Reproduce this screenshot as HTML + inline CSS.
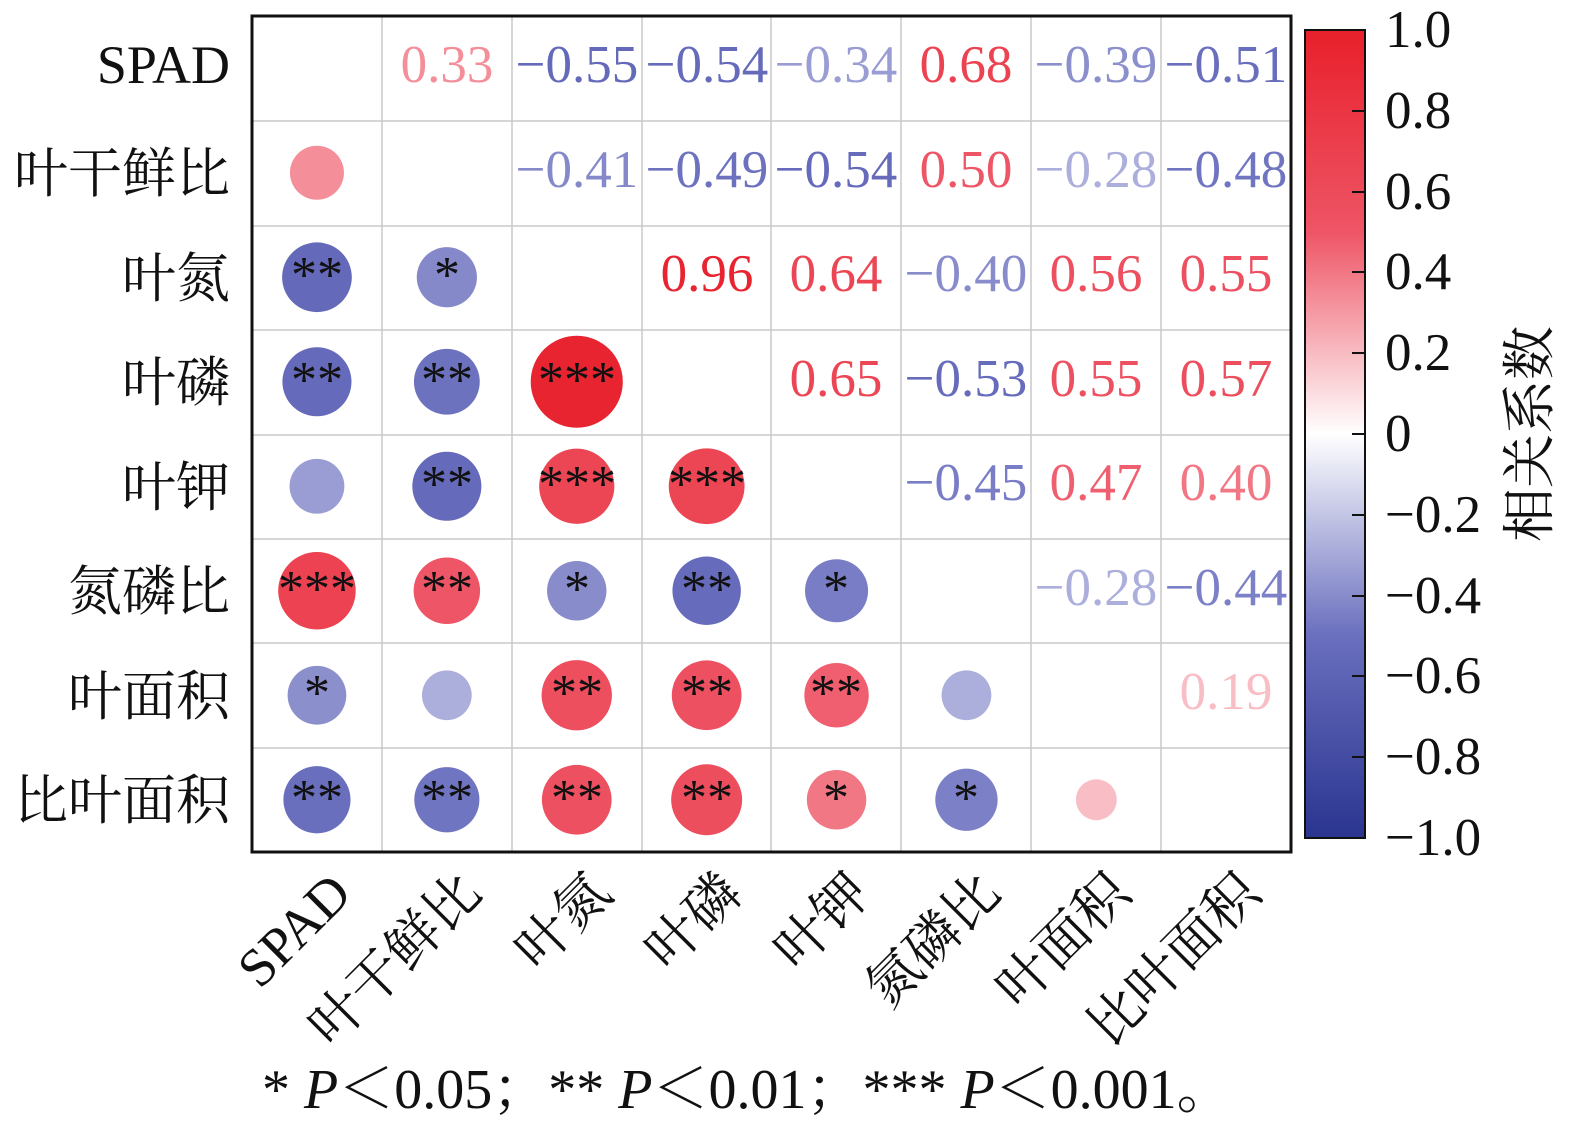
<!DOCTYPE html>
<html><head><meta charset="utf-8">
<style>
html,body{margin:0;padding:0;background:#fff;}
svg{display:block;font-family:"Liberation Serif","Noto Serif CJK SC","Noto Sans CJK SC",serif;}
.lab{font-size:54px;fill:#111;}
.num{font-size:53px;text-anchor:middle;}
.st{font-size:52px;text-anchor:middle;fill:#111;}
.tk{font-size:53px;fill:#111;}
</style></head><body>
<svg id="s" width="1575" height="1130" viewBox="0 0 1575 1130" xmlns="http://www.w3.org/2000/svg">
<defs>
<linearGradient id="cb" x1="0" y1="0" x2="0" y2="1">
<stop offset="0" stop-color="#e8202b"/>
<stop offset="0.25" stop-color="#ee5566"/>
<stop offset="0.5" stop-color="#ffffff"/>
<stop offset="0.75" stop-color="#6a6fbe"/>
<stop offset="1" stop-color="#2a3590"/>
</linearGradient>
</defs>
<g id="grid" stroke="#c8c8c8" stroke-width="1.5">
<line x1="382" y1="16" x2="382" y2="852"/><line x1="512" y1="16" x2="512" y2="852"/>
<line x1="642" y1="16" x2="642" y2="852"/><line x1="771" y1="16" x2="771" y2="852"/>
<line x1="901" y1="16" x2="901" y2="852"/><line x1="1031" y1="16" x2="1031" y2="852"/>
<line x1="1161" y1="16" x2="1161" y2="852"/>
<line x1="252" y1="121" x2="1291" y2="121"/><line x1="252" y1="226" x2="1291" y2="226"/>
<line x1="252" y1="330" x2="1291" y2="330"/><line x1="252" y1="435" x2="1291" y2="435"/>
<line x1="252" y1="539" x2="1291" y2="539"/><line x1="252" y1="643" x2="1291" y2="643"/>
<line x1="252" y1="748" x2="1291" y2="748"/>
</g>
<g id="circ"></g>
<rect x="252" y="16" width="1039" height="836" fill="none" stroke="#111" stroke-width="3"/>

<g class="lab" text-anchor="end">
<text x="230" y="83">SPAD</text>
<text x="230" y="192">叶干鲜比</text>
<text x="230" y="297">叶氮</text>
<text x="230" y="401">叶磷</text>
<text x="230" y="506">叶钾</text>
<text x="230" y="610">氮磷比</text>
<text x="230" y="715">叶面积</text>
<text x="230" y="819">比叶面积</text>
</g>
<g class="lab" text-anchor="end">
<text transform="translate(354,896) rotate(-45)">SPAD</text>
<text transform="translate(484,896) rotate(-45)">叶干鲜比</text>
<text transform="translate(614,896) rotate(-45)">叶氮</text>
<text transform="translate(744,896) rotate(-45)">叶磷</text>
<text transform="translate(873,896) rotate(-45)">叶钾</text>
<text transform="translate(1003,896) rotate(-45)">氮磷比</text>
<text transform="translate(1133,896) rotate(-45)">叶面积</text>
<text transform="translate(1263,896) rotate(-45)">比叶面积</text>
</g>

<g class="num" id="nums">
<text x="447" y="82">0.33</text><text x="577" y="82">−0.55</text><text x="707" y="82">−0.54</text><text x="836" y="82">−0.34</text><text x="966" y="82">0.68</text><text x="1096" y="82">−0.39</text><text x="1226" y="82">−0.51</text>
<text x="577" y="187">−0.41</text><text x="707" y="187">−0.49</text><text x="836" y="187">−0.54</text><text x="966" y="187">0.50</text><text x="1096" y="187">−0.28</text><text x="1226" y="187">−0.48</text>
<text x="707" y="291">0.96</text><text x="836" y="291">0.64</text><text x="966" y="291">−0.40</text><text x="1096" y="291">0.56</text><text x="1226" y="291">0.55</text>
<text x="836" y="396">0.65</text><text x="966" y="396">−0.53</text><text x="1096" y="396">0.55</text><text x="1226" y="396">0.57</text>
<text x="966" y="500">−0.45</text><text x="1096" y="500">0.47</text><text x="1226" y="500">0.40</text>
<text x="1096" y="605">−0.28</text><text x="1226" y="605">−0.44</text>
<text x="1226" y="709">0.19</text>
</g>

<g class="st">
<text x="317" y="292">**</text><text x="447" y="292">*</text>
<text x="317" y="397">**</text><text x="447" y="397">**</text><text x="577" y="397">***</text>
<text x="447" y="501">**</text><text x="577" y="501">***</text><text x="707" y="501">***</text>
<text x="317" y="606">***</text><text x="447" y="606">**</text><text x="577" y="606">*</text><text x="707" y="606">**</text><text x="836" y="606">*</text>
<text x="317" y="710">*</text><text x="577" y="710">**</text><text x="707" y="710">**</text><text x="836" y="710">**</text>
<text x="317" y="815">**</text><text x="447" y="815">**</text><text x="577" y="815">**</text><text x="707" y="815">**</text><text x="836" y="815">*</text><text x="966" y="815">*</text>
</g>

<rect x="1305" y="30" width="60" height="808" fill="url(#cb)" stroke="#111" stroke-width="2"/>
<g stroke="#111" stroke-width="2">
<line x1="1352" y1="111" x2="1365" y2="111"/><line x1="1352" y1="192" x2="1365" y2="192"/>
<line x1="1352" y1="272" x2="1365" y2="272"/><line x1="1352" y1="353" x2="1365" y2="353"/>
<line x1="1352" y1="434" x2="1365" y2="434"/><line x1="1352" y1="515" x2="1365" y2="515"/>
<line x1="1352" y1="596" x2="1365" y2="596"/><line x1="1352" y1="676" x2="1365" y2="676"/>
<line x1="1352" y1="757" x2="1365" y2="757"/>
</g>
<g class="tk">
<text x="1385" y="47">1.0</text><text x="1385" y="128">0.8</text><text x="1385" y="209">0.6</text>
<text x="1385" y="289">0.4</text><text x="1385" y="370">0.2</text><text x="1385" y="451">0</text>
<text x="1385" y="532">−0.2</text><text x="1385" y="613">−0.4</text><text x="1385" y="693">−0.6</text>
<text x="1385" y="774">−0.8</text><text x="1385" y="855">−1.0</text>
</g>
<text class="lab" text-anchor="middle" transform="translate(1548,434) rotate(-90)">相关系数</text>

<text class="lab" x="262" y="1108" style="font-size:56px">* <tspan font-style="italic">P</tspan>＜0.05；** <tspan font-style="italic">P</tspan>＜0.01；*** <tspan font-style="italic">P</tspan>＜0.001。</text>
</svg>
<script>
function col(v){
  var a=Math.abs(v), end, mid;
  if(v>=0){mid=[238,85,102];end=[232,32,43];}else{mid=[106,111,190];end=[42,53,144];}
  var c;
  if(a<=0.5){var t=a/0.5;c=[255+(mid[0]-255)*t,255+(mid[1]-255)*t,255+(mid[2]-255)*t];}
  else{var t=(a-0.5)/0.5;c=[mid[0]+(end[0]-mid[0])*t,mid[1]+(end[1]-mid[1])*t,mid[2]+(end[2]-mid[2])*t];}
  return 'rgb('+c.map(Math.round).join(',')+')';
}
var M=[[0,0.33,-0.55,-0.54,-0.34,0.68,-0.39,-0.51],
[0.33,0,-0.41,-0.49,-0.54,0.50,-0.28,-0.48],
[-0.55,-0.41,0,0.96,0.64,-0.40,0.56,0.55],
[-0.54,-0.49,0.96,0,0.65,-0.53,0.55,0.57],
[-0.34,-0.54,0.64,0.65,0,-0.45,0.47,0.40],
[0.68,0.50,-0.40,-0.53,-0.45,0,-0.28,-0.44],
[-0.39,-0.28,0.56,0.55,0.47,-0.28,0,0.19],
[-0.51,-0.48,0.55,0.57,0.40,-0.44,0.19,0]];
var g=document.getElementById('circ'),ns='http://www.w3.org/2000/svg';
for(var i=1;i<8;i++)for(var j=0;j<i;j++){
  var v=M[i][j],c=document.createElementNS(ns,'circle');
  c.setAttribute('cx',252+129.9*(j+0.5));c.setAttribute('cy',16+104.5*(i+0.5));
  c.setAttribute('r',47*Math.sqrt(Math.abs(v)));c.setAttribute('fill',col(v));g.appendChild(c);
}
var ts=document.querySelectorAll('#nums text');
for(var k=0;k<ts.length;k++){var v=parseFloat(ts[k].textContent.replace('−','-'));ts[k].setAttribute('fill',col(v));}
</script>
</body></html>
